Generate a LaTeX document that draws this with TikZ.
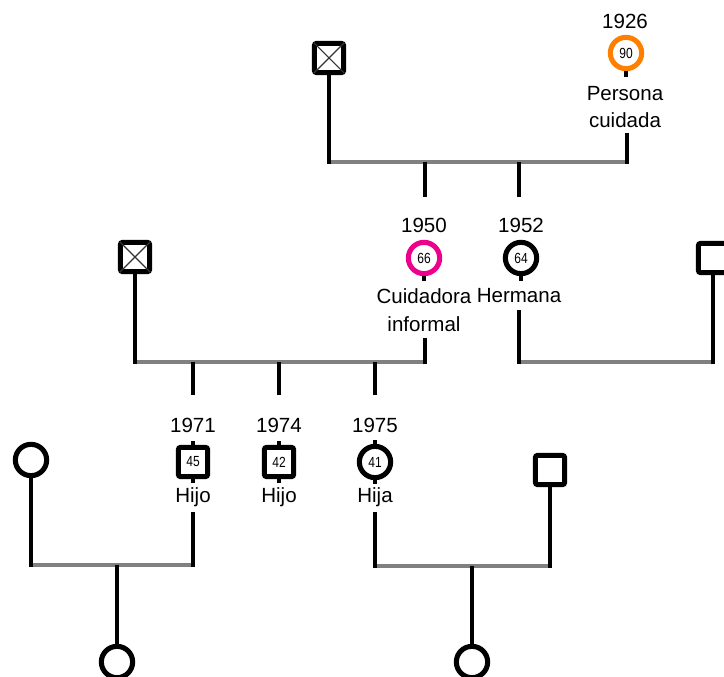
\documentclass[tikz,border=0pt]{standalone}
\usepackage{fontspec}
\setmainfont{Liberation Sans}
\definecolor{orng}{RGB}{255,128,0}
\definecolor{pnk}{RGB}{236,0,140}
\definecolor{bargray}{RGB}{128,128,128}
\newcommand{\agetxt}[1]{\scalebox{0.82}[1]{#1}}
\begin{document}
\begin{tikzpicture}[x=0.75pt,y=-0.75pt,
  male/.style={draw=black, line width=3.8pt, rounded corners=1.8pt, minimum size=22pt, inner sep=0pt, fill=white, font=\fontsize{11}{11}\selectfont},
  female/.style={circle, draw=black, line width=3.8pt, minimum size=23.5pt, inner sep=0pt, fill=white, font=\fontsize{11}{11}\selectfont},
  lbl/.style={font=\fontsize{15.4}{20.6}\selectfont, inner sep=0pt, align=center, text=black},
  desc/.style={line width=3.1pt, draw=black},
  stub/.style={line width=3.6pt, draw=black},
  bar/.style={line width=3.1pt, draw=bargray},
  xmark/.style={line width=0.8pt, draw=black!80}
]
\useasboundingbox (0,0) rectangle (724,677);
\clip (0,0) rectangle (724,677);

% ---------- coordinates ----------
\coordinate (b1l) at (329,162);
\coordinate (b1r) at (627,162);
\coordinate (b1c) at (425,162);
\coordinate (b1s) at (519,162);
\coordinate (t1f) at (627,133);

\coordinate (b2l) at (135,362);
\coordinate (b2m) at (425,362);
\coordinate (b2s) at (519,362);
\coordinate (b2r) at (713,362);
\coordinate (t2c) at (425,338);
\coordinate (t2s) at (519,310);
\coordinate (d2c) at (425,197);
\coordinate (d2s) at (519,197);
\coordinate (c1) at (193,362);
\coordinate (c2) at (279,362);
\coordinate (c3) at (375,362);
\coordinate (e1) at (193,395);
\coordinate (e2) at (279,395);
\coordinate (e3) at (375,395);

\coordinate (b3a) at (31,565);
\coordinate (b3b) at (193,565);
\coordinate (b3k) at (117,565);
\coordinate (t3a) at (193,512);
\coordinate (b3c) at (375,566);
\coordinate (b3d) at (550,566);
\coordinate (b3m) at (472,566);
\coordinate (t3c) at (375,512);

% ---------- bars ----------
\draw[bar] (b1l) -- (b1r);
\draw[bar] (b2l) -- (b2m);
\draw[bar] (b2s) -- (b2r);
\draw[bar] (b3a) -- (b3b);
\draw[bar] (b3c) -- (b3d);

% ---------- generation 1 ----------
\node[male] (g1m) at (329,58) {};
\draw[xmark] ([shift={(1.5pt,-1.5pt)}]g1m.north west) -- ([shift={(-1.5pt,1.5pt)}]g1m.south east);
\draw[xmark] ([shift={(-1.5pt,-1.5pt)}]g1m.north east) -- ([shift={(1.5pt,1.5pt)}]g1m.south west);
\node[lbl] (y1926) at (625,21) {1926};
\node[female, draw=orng] (g1f) at (626,53) {\agetxt{90}};
\node[lbl] (l1926) at (625,107) {Persona\\cuidada};
\draw[stub] (g1f.south) -- ++(0,6);
\draw[desc] (g1m.south) -- ([yshift=-1.5pt]b1l);
\draw[desc] (t1f) -- ([yshift=-1.5pt]b1r);

% ---------- generation 2 ----------
\draw[desc] (b1c) -- (d2c);
\draw[desc] (b1s) -- (d2s);
\node[lbl] (y1950) at (424,225) {1950};
\node[female, draw=pnk] (g2c) at (424,258) {\agetxt{66}};
\draw[stub] (g2c.south) -- ++(0,5);
\node[lbl] (l1950) at (424,310) {Cuidadora\\informal};
\node[lbl] (y1952) at (521,225) {1952};
\node[female] (g2s) at (521,258) {\agetxt{64}};
\draw[stub] (g2s.south) -- ++(0,5);
\node[lbl] (l1952) at (519,296) {Hermana};
\draw[desc] (t2c) -- ([yshift=-1.5pt]b2m);
\draw[desc] (t2s) -- ([yshift=-1.5pt]b2s);

\node[male] (g2h) at (135,257) {};
\draw[xmark] ([shift={(1.5pt,-1.5pt)}]g2h.north west) -- ([shift={(-1.5pt,1.5pt)}]g2h.south east);
\draw[xmark] ([shift={(-1.5pt,-1.5pt)}]g2h.north east) -- ([shift={(1.5pt,1.5pt)}]g2h.south west);
\draw[desc] (g2h.south) -- ([yshift=-1.5pt]b2l);

\node[male] (g2r) at (713,258) {};
\draw[desc] (g2r.south) -- ([yshift=-1.5pt]b2r);

% ---------- generation 3 ----------
\draw[desc] (c1) -- (e1);
\draw[desc] (c2) -- (e2);
\draw[desc] (c3) -- (e3);
\node[lbl] (y1971) at (193,425) {1971};
\node[lbl] (y1974) at (279,425) {1974};
\node[lbl] (y1975) at (375,425) {1975};
\node[male] (k1) at (193,462) {\agetxt{45}};
\node[male] (k2) at (279,462) {\agetxt{42}};
\node[female] (k3) at (375,462) {\agetxt{41}};
\foreach \k in {k1,k2,k3}{
  \draw[stub] (\k.north) -- ++(0,-4);
  \draw[stub] (\k.south) -- ++(0,4);
}
\node[lbl] (l1971) at (193,497) {Hijo};
\node[lbl] (l1974) at (279,497) {Hijo};
\node[lbl] (l1975) at (375,497) {Hija};
\draw[desc] (t3a) -- ([yshift=-1.5pt]b3b);
\draw[desc] (t3c) -- ([yshift=-1.5pt]b3c);

% left spouse and child
\node[female] (s1) at (31,460) {};
\draw[desc] (s1.south) -- ([yshift=-1.5pt]b3a);
\node[female] (gc1) at (117,662) {};
\draw[desc] (b3k) -- (gc1.north);

% right spouse and child
\node[male] (s2) at (550,470) {};
\draw[desc] (s2.south) -- ([yshift=-1.5pt]b3d);
\node[female] (gc2) at (472,662) {};
\draw[desc] (b3m) -- (gc2.north);
\end{tikzpicture}
\end{document}
